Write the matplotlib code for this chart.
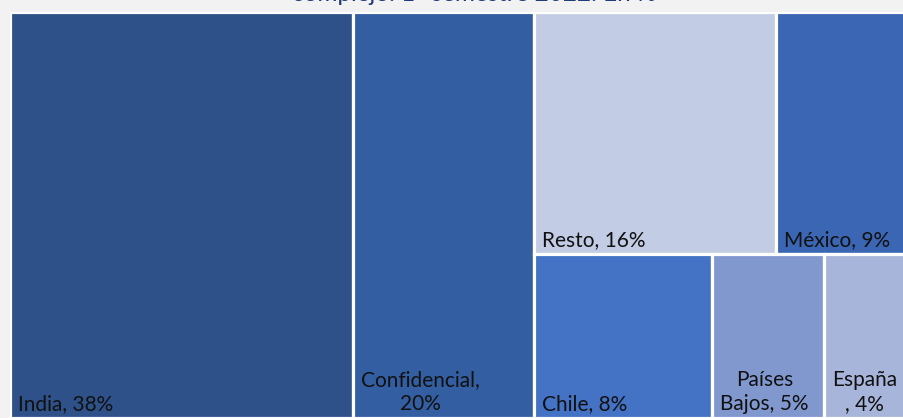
import matplotlib
matplotlib.use("Agg")
import matplotlib.pyplot as plt
from matplotlib.patches import Rectangle

labels = ["India", "Confidencial", "Resto", "México", "Chile", "Países Bajos", "España"]
values = [38, 20, 16, 9, 8, 5, 4]
colors = ["#2E5189", "#345EA2", "#C2CCE4", "#3A66B4", "#4472C4", "#8198CF", "#A8B5DB"]
label_text = ["India, 38%", "Confidencial,\n20%", "Resto, 16%", "México, 9%",
              "Chile, 8%", "Países\nBajos, 5%", "España\n, 4%"]
title = "complejo. 1° semestre 2022. En %"

total = sum(values)
# layout: two full-height columns, then a block with two rows
rects = []
x = 0.0
for v in values[:2]:
    w = v / total
    rects.append((x, 0.0, w, 1.0))
    x += w
rest_w = 1.0 - x
rest_total = sum(values[2:])
top = values[2:4]
bot = values[4:]
top_h = sum(top) / rest_total
bot_h = sum(bot) / rest_total
xx = x
for v in top:
    w = v / sum(top) * rest_w
    rects.append((xx, bot_h, w, top_h))
    xx += w
xx = x
for v in bot:
    w = v / sum(bot) * rest_w
    rects.append((xx, 0.0, w, bot_h))
    xx += w

fig = plt.figure(figsize=(9.04, 4.18), dpi=100)
fig.patch.set_facecolor("#F2F2F2")
H = 406
ax = fig.add_axes([10 / 904, (418 - 12 - H) / 418, 903 / 904, H / 418])
ax.set_xlim(0, 1)
ax.set_ylim(0, 1)
ax.axis("off")

pad_x = 8 / 903
pad_y = 8 / H
for (rx, ry, rw, rh), c, t in zip(rects, colors, label_text):
    ax.add_patch(Rectangle((rx, ry), rw, rh, facecolor=c, edgecolor="white", linewidth=2.3))
    ax.text(rx + pad_x, ry + pad_y, t, ha="left", va="baseline", fontsize=15,
            family="Lato", color="#111111", multialignment="center", linespacing=1.25)

fig.text(0.525, 1 - 1 / 418, title, ha="center", va="baseline", fontsize=17.5,
         family="Lato", color="#1F3B7A")

fig.savefig("out.png", dpi=100, facecolor=fig.get_facecolor())
